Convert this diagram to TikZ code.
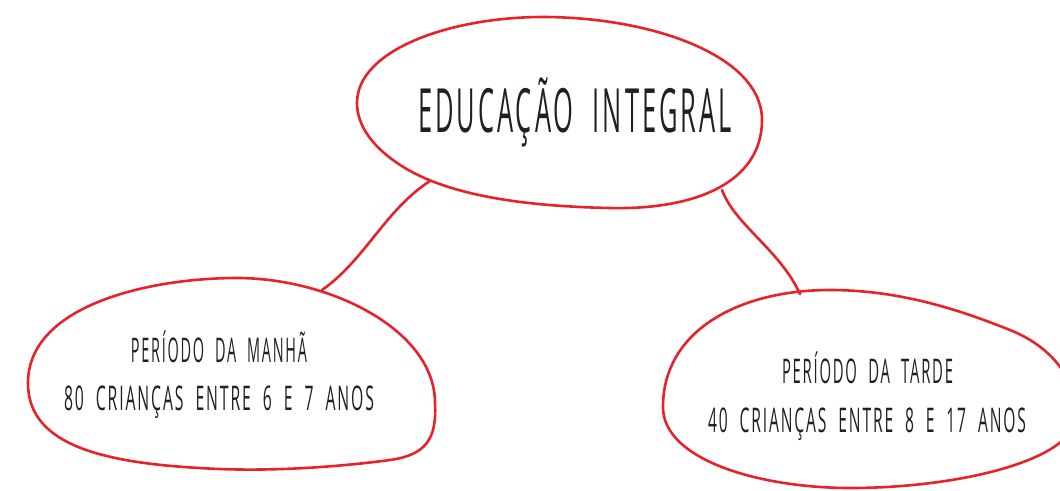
\documentclass[tikz,border=0pt]{standalone}
\usepackage{fontspec}
\usepackage{graphicx}
\setmainfont{Open Sans}[LetterSpace=12, WordSpace=2]
\definecolor{blobred}{HTML}{E8212B}
\definecolor{ink}{HTML}{231F20}
\newcommand{\fitw}[3]{\resizebox{#1}{\height}{\fontsize{#2}{#2}\selectfont #3}}
\tikzset{
  blob/.style={draw=blobred, line width=2.6pt, line join=round},
  link/.style={draw=blobred, line width=2.6pt, line cap=round},
  txt/.style={text=ink, inner sep=0pt, anchor=base}
}
\begin{document}
\begin{tikzpicture}[x=1pt,y=-1pt]
\useasboundingbox (0,0) rectangle (1060,490);
\begin{scope}
\clip (0,0) rectangle (1060,490);
% top blob
\draw[blob] (357,103) .. controls (357,50) and (450,17) .. (543,17)
  .. controls (650,17) and (762,55) .. (762,120)
  .. controls (762,180) and (700,210) .. (610,208)
  .. controls (510,206) and (445,192) .. (405,168)
  .. controls (372,148) and (357,125) .. (357,103) -- cycle;
% left blob
\draw[blob] (28,383) .. controls (28,305) and (150,278) .. (237,278)
  .. controls (330,278) and (435,330) .. (435,403)
  .. controls (437,440) and (425,455) .. (390,460)
  .. controls (330,468) and (260,472) .. (200,468)
  .. controls (90,462) and (28,440) .. (28,383) -- cycle;
% right blob
\draw[blob] (663,407) .. controls (663,330) and (740,290) .. (830,290)
  .. controls (900,290) and (960,310) .. (1010,330)
  .. controls (1060,350) and (1080,390) .. (1075,420)
  .. controls (1070,460) and (960,488) .. (850,488)
  .. controls (760,488) and (663,460) .. (663,407) -- cycle;
\end{scope}
\coordinate (tl) at (430,181);
\coordinate (lt) at (322,290);
\coordinate (tr) at (722,190);
\coordinate (rt) at (800,294);
\draw[link] (tl) .. controls (385,210) and (365,260) .. (lt);
\draw[link] (tr) .. controls (735,225) and (780,250) .. (rt);
\node[txt] (title) at (575,132) {\fitw{314pt}{61pt}{EDUCAÇÃO INTEGRAL}};
\node[txt] (l1) at (219,362) {\fitw{176pt}{34pt}{PERÍODO DA MANHÃ}};
\node[txt] (l2) at (219,410) {\fitw{310pt}{34pt}{80 CRIANÇAS ENTRE 6 E 7 ANOS}};
\node[txt] (r1) at (867.5,383) {\fitw{171pt}{34pt}{PERÍODO DA TARDE}};
\node[txt] (r2) at (867,432) {\fitw{318pt}{34pt}{40 CRIANÇAS ENTRE 8 E 17 ANOS}};
\end{tikzpicture}
\end{document}
